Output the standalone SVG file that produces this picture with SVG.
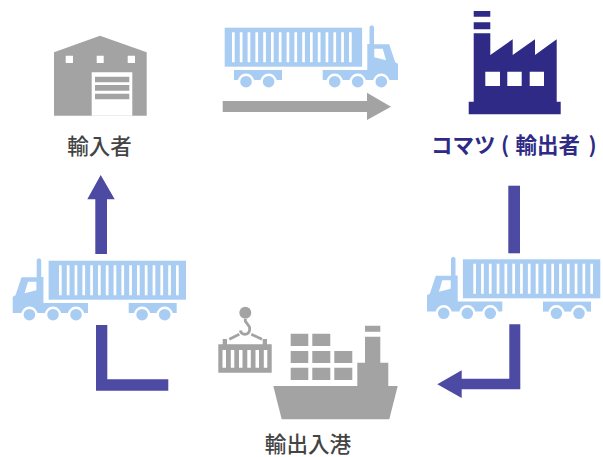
<svg xmlns="http://www.w3.org/2000/svg" width="603" height="457" viewBox="0 0 603 457">
<style>
.t{fill:#a9cdf2}.w{fill:#fff}.g{fill:#a3a3a3}.n{fill:#2e2a85}.a{fill:#4d4aa3}
.wr{fill:#a9cdf2;stroke:#fff;stroke-width:2.4}
text{font-family:"Noto Sans CJK JP","Noto Sans",sans-serif;font-weight:500;text-anchor:middle}
</style>
<defs>
<g id="truck">
<rect class="t" width="137.4" height="39"/>
<path class="w" d="M7.3 4.5h2.7v30h-2.7zM15.1 4.5h2.7v30h-2.7zM22.9 4.5h2.7v30h-2.7zM30.7 4.5h2.7v30h-2.7zM38.5 4.5h2.7v30h-2.7zM46.3 4.5h2.7v30h-2.7zM54.1 4.5h2.7v30h-2.7zM61.9 4.5h2.7v30h-2.7zM69.7 4.5h2.7v30h-2.7zM77.5 4.5h2.7v30h-2.7zM85.3 4.5h2.7v30h-2.7zM93.1 4.5h2.7v30h-2.7zM100.9 4.5h2.7v30h-2.7zM108.7 4.5h2.7v30h-2.7zM116.5 4.5h2.7v30h-2.7zM124.3 4.5h2.7v30h-2.7z"/>
<rect class="t" x="9.3" y="42.3" width="48" height="10"/>
<path class="t" d="M98 42.3H142.6V16.3H144.8V-1Q147 -4 149.3 -1V16.5H164.5L170.5 34.5L173.3 36V52.3H98Z"/>
<path class="w" d="M149.6 21H158L161.4 32.5L149.6 29.5Z"/>
<circle class="wr" cx="21.3" cy="54" r="7"/><circle class="wr" cx="43.9" cy="54" r="7"/>
<circle class="wr" cx="110" cy="54" r="7"/><circle class="wr" cx="133" cy="54" r="7"/><circle class="wr" cx="156.6" cy="54" r="7"/>
</g>
</defs>
<g id="importer">
<path class="g" d="M54 52.3L100 35.7L146.7 52.3V115.7H54Z"/>
<path class="w" d="M91.7 72.3H132.3V115.7H91.7ZM65.7 55.7H73V63H65.7ZM96.7 55.7H103.7V63H96.7ZM127.7 55.7H135V63H127.7Z"/>
<path class="g" d="M95 76.7H129.3V82.3H95ZM95 85H129.3V90.7H95ZM95 93.7H129.3V99.3H95Z"/>
<text x="99.5" y="154" font-size="21.5" fill="#444">輸入者</text>
</g>
<g id="exporter">
<path class="n" d="M473.7 11H490.3V16.7H473.7ZM473.7 22.3H490.3V29.3H473.7ZM473.7 33.3H490.3V55L512.7 39.3V55L535 39.3V55L556.7 39.3V101.7H560.7V114.3H468.7V101.7H473.7Z"/>
<path class="w" d="M485.3 71.7H500V86H485.3ZM507.3 71.7H521.7V86H507.3ZM529.7 71.7H544V86H529.7Z"/>
<text y="152.5" font-size="21.5" fill="#2e2a85" style="text-anchor:start;font-weight:700"><tspan x="431">コマツ</tspan><tspan x="496"> (</tspan><tspan x="515.5">輸出者</tspan><tspan x="583.5"> )</tspan></text>
</g>
<g id="port">
<path class="g" d="M273.3 386H397.7L389.3 419.3H281.7Z"/>
<path class="g" d="M357.3 386V362.7H365V336.7H380.3V362.7H388.3V386ZM365 325.7H380.3V331.7H365ZM290.7 333.7H308.3V346H290.7ZM312.3 333.7H330.3V346H312.3ZM290.7 351H308.3V363H290.7ZM312.3 351H330.3V363H312.3ZM334.3 351H352.3V363H334.3ZM290.7 367.7H308.3V380H290.7ZM312.3 367.7H330.3V380H312.3ZM334.3 367.7H352.3V380H334.3Z"/>
<circle class="g" cx="245.3" cy="312.7" r="6"/>
<path d="M245.3 319V321L249.5 327Q250.5 334 245 334.3Q241 334 240.3 330.5M229.3 339.3L239.3 334.3M251.3 334.3L262 339.3" fill="none" stroke="#a3a3a3" stroke-width="2.8"/>
<path class="g" d="M218.3 344.3H222.7V339H227V344.3H262.7V339H267V344.3H271.7V372.7H218.3Z"/>
<path class="w" d="M222.5 350H226V367.7H222.5ZM230.8 350H234.3V367.7H230.8ZM239 350H242.5V367.7H239ZM247.3 350H250.8V367.7H247.3ZM255.5 350H259V367.7H255.5ZM263.8 350H267.3V367.7H263.8Z"/>
<text x="308" y="452" font-size="21.6" fill="#444">輸出入港</text>
</g>
<g id="truck-top"><use href="#truck" transform="translate(224.7 27.7)"/></g>
<g id="truck-right"><use href="#truck" transform="translate(600.3 259.3) scale(-1 1)"/></g>
<g id="truck-left"><use href="#truck" transform="translate(186 260.7) scale(-1 1)"/></g>
<g id="connectors">
<path class="g" d="M222.7 101H367V92.7L391 106.7L367 120V112H222.7Z"/>
<path class="a" d="M508.3 185.7H520V253.3H508.3Z"/>
<path class="a" d="M509.3 324.3H520.3V389.3H461.7V398L437.3 384.3L461.7 370.3V378.7H509.3Z"/>
<path class="a" d="M96 325H107.3V379.3H168.3V390.7H96Z"/>
<path class="a" d="M95.3 254V199.3H87.3L100.7 175L114.7 199.3H107V254Z"/>
</g>
</svg>
